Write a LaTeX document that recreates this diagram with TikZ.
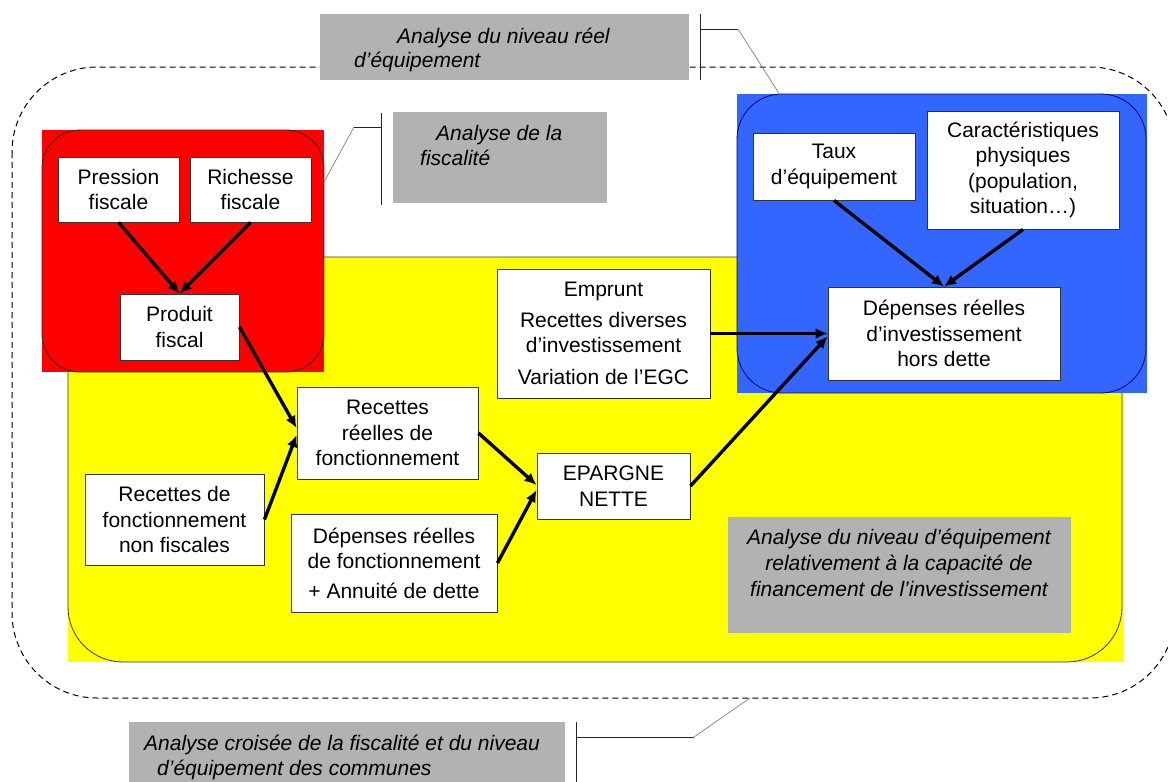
\documentclass[tikz,border=0pt]{standalone}
\usepackage{fontspec}
\setmainfont{Liberation Sans}
\usetikzlibrary{arrows.meta}
\definecolor{cyel}{HTML}{FFFF00}
\definecolor{cred}{HTML}{FF0000}
\definecolor{cblue}{HTML}{3366FF}
\definecolor{cgray}{HTML}{B2B2B2}
\begin{document}
\begin{tikzpicture}[x=1pt,y=-1pt,
  box/.style={draw=black!80, fill=white, line width=0.9pt, align=center, inner sep=0pt, font=\fontsize{21pt}{25.5pt}\selectfont},
  arr/.style={line width=3.4pt, -{Latex[length=12pt,width=11pt]}},
  callout/.style={fill=cgray, draw=none, inner sep=0pt},
  ctext/.style={font=\fontsize{21pt}{25.5pt}\selectfont\itshape, inner sep=0pt},
  lead/.style={line width=0.8pt, draw=black!85},
  leadd/.style={line width=0.7pt, draw=black!50}]
\useasboundingbox (0,0) rectangle (1168,782);
% outer dashed frame
\draw[dash pattern=on 6pt off 4pt, line width=1pt, rounded corners=85pt] (12,67) rectangle (1175,698);
% yellow region
\fill[cyel] (68,257) rectangle (1123,662);
\draw[line width=0.8pt, black!80, rounded corners=55pt] (68,257) rectangle (1122,662);
% red region
\fill[cred] (42,130) rectangle (324,372);
\draw[line width=0.8pt, black!85, rounded corners=38pt] (42,130) rectangle (324,372);
% blue region
\fill[cblue] (737,94) rectangle (1147,393);
\draw[line width=0.8pt, black!60!blue, rounded corners=45pt] (737,94) rectangle (1146,393);

% boxes
\node[box, minimum width=121pt, minimum height=65pt] (pf) at (118.5,189.5) {Pression\\fiscale};
\node[box, minimum width=121pt, minimum height=65pt] (rf) at (250.5,189.5) {Richesse\\fiscale};
\node[box, minimum width=119pt, minimum height=66pt] (pd) at (179.5,327) {Produit\\fiscal};
\node[box, minimum width=162pt, minimum height=67pt] (ta) at (834,166.5) {Taux\\d’équipement};
\node[box, minimum width=192pt, minimum height=118pt] (cr) at (1023,170) {Caractéristiques\\physiques\\(population,\\situation…)};
\node[box, minimum width=232pt, minimum height=93pt] (di) at (944,333.5) {Dépenses réelles\\d’investissement\\hors dette};
\node[box, minimum width=213pt, minimum height=129pt] (em) at (603.5,333.5) {Emprunt\\[5pt]Recettes diverses\\d’investissement\\[6pt]Variation de l’EGC};
\node[box, minimum width=181pt, minimum height=92pt] (rr) at (387.5,433) {Recettes\\réelles de\\fonctionnement};
\node[box, minimum width=179pt, minimum height=91pt] (rn) at (174.5,519.5) {Recettes de\\fonctionnement\\non fiscales};
\node[box, minimum width=153pt, minimum height=66pt] (ep) at (613.5,486) {EPARGNE\\NETTE};
\node[box, minimum width=206pt, minimum height=98pt] (df) at (394,563) {Dépenses réelles\\de fonctionnement\\[4pt]+ Annuité de dette};

% arrows
\draw[arr] (pf.south) -- (pd.north);
\draw[arr] (rf.south) -- (pd.north);
\draw[arr] (ta.south) -- (di.north);
\draw[arr] (cr.south) -- (di.north);
\draw[arr] (pd.east) -- ([yshift=5pt]rr.west);
\draw[arr] (rn.east) -- ([yshift=-2pt]rr.west);
\draw[arr] (rr.east) -- ([yshift=1pt]ep.west);
\draw[arr] (df.east) -- ([yshift=-4pt]ep.west);
\draw[arr] (em.east) -- (di.west);
\draw[arr] (ep.east) -- ([yshift=-3pt]di.west);

% callout: top
\node[callout, minimum width=369pt, minimum height=66pt] (c1) at (504.5,47) {};
\node[ctext, anchor=base west] (c1a) at (397,43) {Analyse du niveau réel};
\node[ctext, anchor=base west] (c1b) at (354,67) {d’équipement};
\coordinate (c1v1) at (700,14); \coordinate (c1v2) at (700,80);
\coordinate (c1h) at (700,29); \coordinate (c1k) at (738,29); \coordinate (c1e) at (780,95);
\draw[lead] (c1v1) -- (c1v2);
\draw[lead] (c1h) -- (c1k);
\draw[leadd] (c1k) -- (c1e);

% callout: fiscalite
\node[callout, minimum width=214pt, minimum height=91pt] (c2) at (500,157.5) {};
\node[ctext, anchor=base west] (c2a) at (436,140) {Analyse de la};
\node[ctext, anchor=base west] (c2b) at (420,165) {fiscalité};
\coordinate (c2v1) at (381,113); \coordinate (c2v2) at (381,205);
\coordinate (c2h) at (381,127); \coordinate (c2k) at (354,127); \coordinate (c2e) at (324,182);
\draw[lead] (c2v1) -- (c2v2);
\draw[lead] (c2h) -- (c2k);
\draw[leadd] (c2k) -- (c2e);

% callout: right
\node[callout, minimum width=343pt, minimum height=116pt] (c3) at (899.5,575) {};
\node[ctext, anchor=base] (c3a) at (899,544) {Analyse du niveau d’équipement};
\node[ctext, anchor=base] (c3b) at (899,570) {relativement à la capacité de};
\node[ctext, anchor=base] (c3c) at (899,596) {financement de l’investissement};

% callout: bottom
\node[callout, minimum width=436pt, minimum height=70pt] (c4) at (347,757) {};
\node[ctext, anchor=base west] (c4a) at (144,750) {Analyse croisée de la fiscalité et du niveau};
\node[ctext, anchor=base west] (c4b) at (157,775) {d’équipement des communes};
\coordinate (c4v1) at (576,722); \coordinate (c4v2) at (576,792);
\coordinate (c4h) at (576,737); \coordinate (c4k) at (694,737); \coordinate (c4e) at (750,698);
\draw[lead] (c4v1) -- (c4v2);
\draw[lead] (c4h) -- (c4k);
\draw[leadd] (c4k) -- (c4e);
\end{tikzpicture}
\end{document}
